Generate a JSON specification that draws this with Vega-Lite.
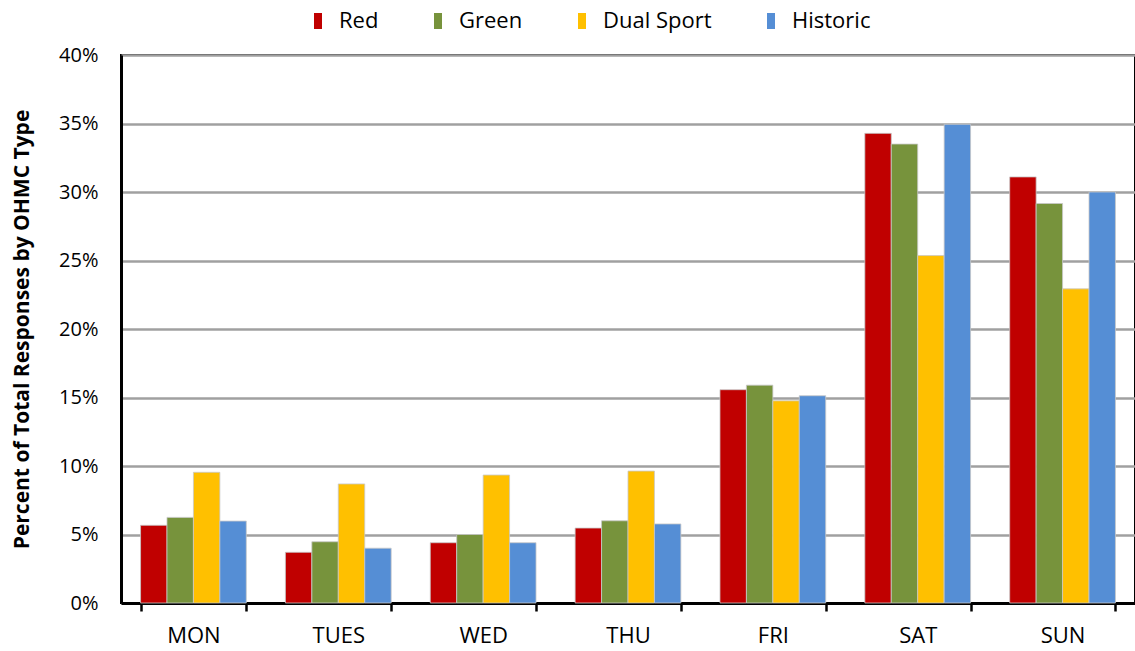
{
  "$schema": "https://vega.github.io/schema/vega-lite/v6.json",
  "autosize": "none",
  "width": 1014,
  "height": 548,
  "padding": {"left": 121, "top": 55, "right": 0, "bottom": 48},
  "background": "white",
  "config": {
    "font": "Open Sans",
    "view": {"stroke": "black", "strokeWidth": 2},
    "axis": {"labelFont": "Open Sans", "titleFont": "Open Sans", "labelColor": "black", "titleColor": "black"},
    "legend": {"labelFont": "Open Sans"}
  },
  "data": {
    "values": [
      {"day": "MON", "type": "Red", "pct": 0.0567},
      {"day": "MON", "type": "Green", "pct": 0.0625},
      {"day": "MON", "type": "Dual Sport", "pct": 0.0954},
      {"day": "MON", "type": "Historic", "pct": 0.0598},
      {"day": "TUES", "type": "Red", "pct": 0.037},
      {"day": "TUES", "type": "Green", "pct": 0.0447},
      {"day": "TUES", "type": "Dual Sport", "pct": 0.0869},
      {"day": "TUES", "type": "Historic", "pct": 0.04},
      {"day": "WED", "type": "Red", "pct": 0.044},
      {"day": "WED", "type": "Green", "pct": 0.05},
      {"day": "WED", "type": "Dual Sport", "pct": 0.0934},
      {"day": "WED", "type": "Historic", "pct": 0.044},
      {"day": "THU", "type": "Red", "pct": 0.0547},
      {"day": "THU", "type": "Green", "pct": 0.06},
      {"day": "THU", "type": "Dual Sport", "pct": 0.0963},
      {"day": "THU", "type": "Historic", "pct": 0.0577},
      {"day": "FRI", "type": "Red", "pct": 0.1557},
      {"day": "FRI", "type": "Green", "pct": 0.159},
      {"day": "FRI", "type": "Dual Sport", "pct": 0.1476},
      {"day": "FRI", "type": "Historic", "pct": 0.1513},
      {"day": "SAT", "type": "Red", "pct": 0.3428},
      {"day": "SAT", "type": "Green", "pct": 0.335},
      {"day": "SAT", "type": "Dual Sport", "pct": 0.2536},
      {"day": "SAT", "type": "Historic", "pct": 0.3494},
      {"day": "SUN", "type": "Red", "pct": 0.311},
      {"day": "SUN", "type": "Green", "pct": 0.2916},
      {"day": "SUN", "type": "Dual Sport", "pct": 0.2293},
      {"day": "SUN", "type": "Historic", "pct": 0.30}
    ]
  },
  "mark": {"type": "bar", "stroke": "#c8c8c8", "strokeWidth": 0.8},
  "encoding": {
    "x": {
      "field": "day",
      "type": "nominal",
      "sort": ["MON", "TUES", "WED", "THU", "FRI", "SAT", "SUN"],
      "scale": {"paddingInner": 0.27, "paddingOuter": 0.135},
      "axis": {
        "title": null,
        "labelAngle": 0,
        "labelFontSize": 22,
        "labelPadding": 14,
        "tickBand": "extent",
        "tickColor": "black",
        "tickWidth": 2.5,
        "tickSize": 8,
        "domainColor": "black",
        "domainWidth": 3,
        "grid": false
      }
    },
    "xOffset": {
      "field": "type",
      "type": "nominal",
      "sort": ["Red", "Green", "Dual Sport", "Historic"],
      "scale": {"paddingInner": 0, "paddingOuter": 0}
    },
    "y": {
      "field": "pct",
      "type": "quantitative",
      "scale": {"domain": [0, 0.4], "nice": false},
      "axis": {
        "title": "Percent of Total Responses by OHMC Type",
        "titleFontSize": 21,
        "titleFontWeight": "bold",
        "titlePadding": 26,
        "format": ".0%",
        "values": [0, 0.05, 0.1, 0.15, 0.2, 0.25, 0.3, 0.35, 0.4],
        "labelFontSize": 20,
        "labelPadding": 23,
        "ticks": false,
        "domainColor": "black",
        "domainWidth": 3,
        "gridColor": "#a0a0a0",
        "gridWidth": 2.5
      }
    },
    "color": {
      "field": "type",
      "type": "nominal",
      "sort": ["Red", "Green", "Dual Sport", "Historic"],
      "scale": {
        "domain": ["Red", "Green", "Dual Sport", "Historic"],
        "range": ["#C00000", "#77933C", "#FFC000", "#558ED5"]
      },
      "legend": {
        "title": null,
        "orient": "none",
        "direction": "horizontal",
        "legendX": 186,
        "legendY": -45,
        "symbolType": "M-0.5,-1H0.5V1H-0.5Z",
        "symbolSize": 256,
        "symbolStrokeWidth": 0,
        "labelFontSize": 22,
        "labelColor": "black",
        "labelOffset": 10,
        "columnPadding": 48
      }
    }
  }
}
